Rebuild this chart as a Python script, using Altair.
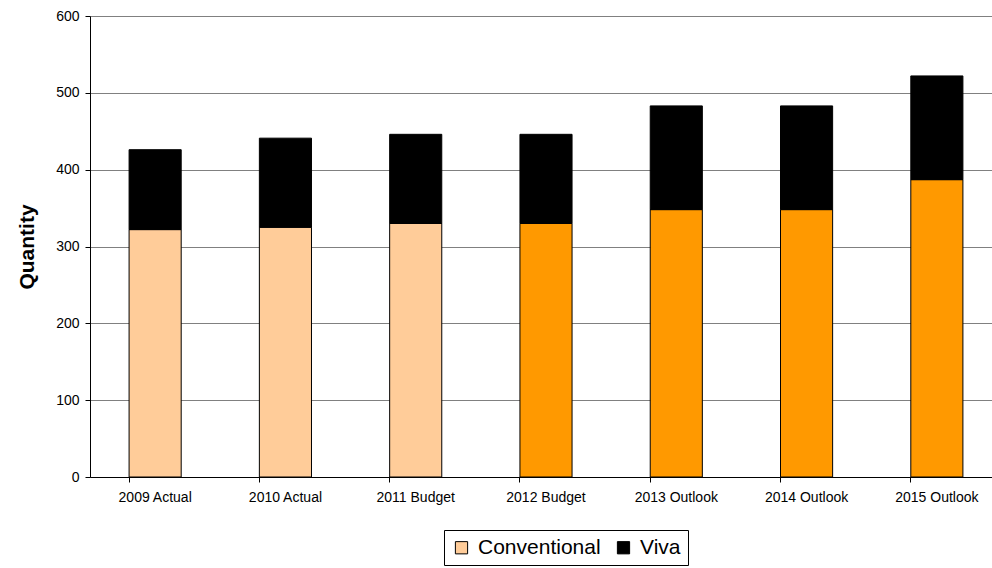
import altair as alt
import pandas as pd

categories = ["2009 Actual", "2010 Actual", "2011 Budget", "2012 Budget",
              "2013 Outlook", "2014 Outlook", "2015 Outlook"]
conventional = [322, 325, 330, 330, 348, 348, 387]
viva = [104, 116, 116, 116, 135, 135, 135]
forecast = [False, False, False, True, True, True, True]

rows = []
for c, cv, vv, f in zip(categories, conventional, viva, forecast):
    rows.append({"period": c, "series": "Conventional", "value": cv, "ord": 0, "forecast": f})
    rows.append({"period": c, "series": "Viva", "value": vv, "ord": 1, "forecast": f})
df = pd.DataFrame(rows)

FONT = "Liberation Sans"

chart = alt.Chart(df).mark_bar(stroke="black", strokeWidth=1).encode(
    x=alt.X("period:N", sort=categories, title=None,
            scale=alt.Scale(paddingInner=0.6, paddingOuter=0.3, range=[0, 912]),
            axis=alt.Axis(labelAngle=0, bandPosition=0, tickSize=5, tickColor="black",
                          domainColor="black", labelFontSize=14, labelColor="black",
                          labelPadding=8, labelFont=FONT, grid=False)),
    y=alt.Y("value:Q", stack="zero", title="Quantity",
            scale=alt.Scale(domain=[0, 600]),
            axis=alt.Axis(values=[0, 100, 200, 300, 400, 500, 600], tickSize=5,
                          tickColor="black", domainColor="black", gridColor="#808080",
                          labelFontSize=14, labelColor="black", labelFont=FONT,
                          labelPadding=6, titleFont=FONT, titleFontSize=21,
                          titleFontWeight="bold", titleColor="black", titlePadding=18)),
    color=alt.condition(
        "datum.series == 'Conventional' && datum.forecast",
        alt.value("#FF9900"),
        alt.Color("series:N", title=None,
                  scale=alt.Scale(domain=["Conventional", "Viva"], range=["#FFCC99", "#000000"]),
                  legend=alt.Legend(orient="none", legendX=354, legendY=514, direction="horizontal",
                                    symbolType="square", symbolSize=150, symbolStrokeColor="black",
                                    symbolStrokeWidth=1, labelFontSize=21, labelFont=FONT,
                                    labelColor="black", strokeColor="black", padding=7,
                                    columnPadding=12, symbolOpacity=1, labelOffset=6)),
    ),
    order=alt.Order("ord:Q"),
).properties(
    width=900, height=461,
    autosize=alt.AutoSizeParams(type="none"),
    padding={"left": 90, "top": 16, "right": 2, "bottom": 91},
).configure_view(stroke=None).configure_axis(gridOpacity=1, domainWidth=1)

chart.save("out.html", embed_options={"renderer": "svg", "actions": False})
